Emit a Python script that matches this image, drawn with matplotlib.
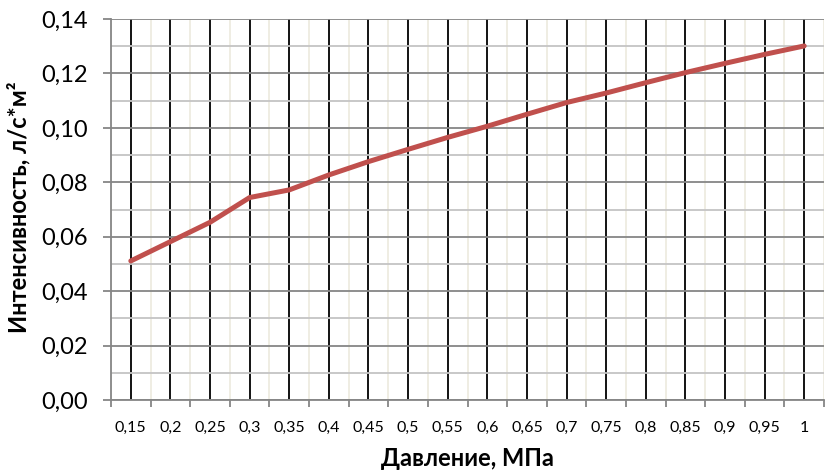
import matplotlib
matplotlib.use("Agg")
import matplotlib.pyplot as plt
from matplotlib.ticker import MultipleLocator, FixedLocator, FuncFormatter
import numpy as np

plt.rcParams['font.family'] = ['Lato', 'DejaVu Sans']

pressure_labels = ["0,15", "0,2", "0,25", "0,3", "0,35", "0,4", "0,45", "0,5", "0,55",
                   "0,6", "0,65", "0,7", "0,75", "0,8", "0,85", "0,9", "0,95", "1"]
intensity = [0.0511, 0.0582, 0.0653, 0.0744, 0.0772, 0.0827, 0.0876, 0.0921, 0.0965,
             0.1006, 0.1050, 0.1093, 0.1128, 0.1166, 0.1203, 0.1237, 0.1270, 0.1301]

fig = plt.figure(figsize=(8.3, 4.7), dpi=100)
ax = fig.add_axes([111/830, 70/470, 713/830, 381/470])

x = np.arange(len(pressure_labels))
ax.set_xlim(-0.5, len(pressure_labels) - 0.5)
ax.set_ylim(0, 0.14)

# grid lines
ax.yaxis.set_major_locator(MultipleLocator(0.02))
ax.yaxis.set_minor_locator(MultipleLocator(0.01))
ax.grid(which='major', axis='y', color='#868686', linewidth=1.3, zorder=1)
ax.grid(which='minor', axis='y', color='#c4c4c4', linewidth=1.3, zorder=1)

ax.xaxis.set_major_locator(FixedLocator(x))
ax.xaxis.set_minor_locator(FixedLocator(np.arange(len(pressure_labels) + 1) - 0.5))
ax.set_xticklabels(pressure_labels)
ax.grid(which='minor', axis='x', color='#eeece1', linewidth=1.3, zorder=1)
ax.grid(which='major', axis='x', color='black', linewidth=1.3, zorder=2)

ax.plot(x, intensity, color='#c0504d', linewidth=3.6, solid_capstyle='round', zorder=3)

ax.yaxis.set_major_formatter(FuncFormatter(lambda v, p: f"{v:.2f}".replace('.', ',')))

ax.spines['right'].set_visible(False)
ax.spines['top'].set_visible(False)
for s in ['left', 'bottom']:
    ax.spines[s].set_color('#868686')
    ax.spines[s].set_linewidth(1.3)

ax.tick_params(axis='x', which='major', length=0, pad=15, labelsize=11.5)
ax.tick_params(axis='x', which='minor', length=5, width=1.3, color='#868686')
ax.tick_params(axis='y', which='major', length=6, width=1.3, color='#868686', pad=11, labelsize=17)
ax.tick_params(axis='y', which='minor', length=0)

fig.text(467/830, 1 - 458/470, "Давление, МПа", ha='center', va='center',
         fontsize=17, fontweight='bold')
fig.text(19/830, 1 - 207/470, "Интенсивность, л/с*м²", ha='center', va='center',
         rotation=90, fontsize=17, fontweight='bold')

fig.savefig("out.png", dpi=100)
